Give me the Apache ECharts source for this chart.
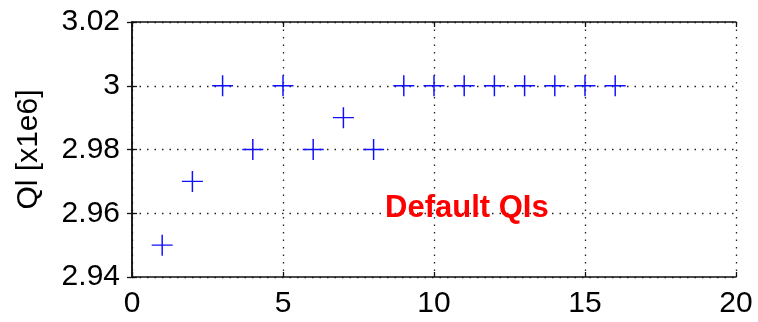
<!DOCTYPE html>
<html>
<head>
<meta charset="utf-8">
<script src="https://cdn.jsdelivr.net/npm/echarts@6/dist/echarts.min.js"></script>
<style>
  html, body { margin: 0; padding: 0; background: #fff; }
  #chart { width: 758px; height: 322px; }
</style>
</head>
<body>
<div id="chart"></div>
<script>
// Quality index per run, in units of 1e6
const runs = [1, 2, 3, 4, 5, 6, 7, 8, 9, 10, 11, 12, 13, 14, 15, 16];
const qlValues = [2.95, 2.97, 3.00, 2.98, 3.00, 2.98, 2.99, 2.98, 3.00, 3.00, 3.00, 3.00, 3.00, 3.00, 3.00, 3.00];
const xTicks = [0, 5, 10, 15, 20];
const yTicks = [2.94, 2.96, 2.98, 3.00, 3.02];

const points = runs.map((r, i) => [r, qlValues[i]]);

const labelFont = { fontFamily: 'Liberation Sans', fontSize: 30, color: '#000' };
const dotted = { color: '#222', width: 1.3, type: [1.5, 6] };
const frame = { show: true, lineStyle: { color: '#111', width: 1.5 } };
const ticksIn = { show: true, inside: true, length: 5, lineStyle: { color: '#111', width: 1.3 } };

// A thin filled "+" glyph used as the marker
const plusPath = 'path://M0,9.3H20V10.7H0Z M9.3,0H10.7V20H9.3Z';

const chart = echarts.init(document.getElementById('chart'), null, { renderer: 'canvas' });
chart.setOption({
  animation: false,
  backgroundColor: '#fff',
  grid: { left: 132, right: 22, top: 22, bottom: 45 },
  xAxis: [
    {
      type: 'value', min: xTicks[0], max: xTicks[xTicks.length - 1], interval: 5,
      axisLine: frame, axisTick: ticksIn,
      axisLabel: Object.assign({ margin: 12, formatter: v => String(v) }, labelFont),
      splitLine: { show: true, lineStyle: dotted }
    },
    {
      type: 'value', position: 'top', min: xTicks[0], max: xTicks[xTicks.length - 1], interval: 5,
      axisLine: frame, axisTick: ticksIn, axisLabel: { show: false }, splitLine: { show: false }
    }
  ],
  yAxis: [
    {
      type: 'value', min: yTicks[0], max: yTicks[yTicks.length - 1], interval: 0.02,
      axisLine: frame, axisTick: ticksIn,
      axisLabel: Object.assign({
        margin: 12,
        formatter: v => {
          const s = v.toFixed(2);
          return s === '3.00' ? '3' : s;
        }
      }, labelFont),
      splitLine: { show: true, lineStyle: dotted },
      name: 'Ql [x1e6]', nameLocation: 'middle', nameGap: 88, nameRotate: 90,
      nameTextStyle: { fontFamily: 'Liberation Sans', fontSize: 30, color: '#000' }
    },
    {
      type: 'value', position: 'right', min: yTicks[0], max: yTicks[yTicks.length - 1], interval: 0.02,
      axisLine: frame, axisTick: ticksIn, axisLabel: { show: false }, splitLine: { show: false }
    }
  ],
  graphic: [
    {
      type: 'text', left: 385, top: 193, z: 10,
      style: { text: 'Default QIs', fill: '#ff0000', font: 'bold 31px "Liberation Sans"' }
    }
  ],
  series: [
    {
      type: 'scatter',
      data: points,
      symbol: plusPath,
      symbolSize: 21,
      itemStyle: { color: '#1010ff', opacity: 1 },
      z: 5
    }
  ]
});
</script>
</body>
</html>
